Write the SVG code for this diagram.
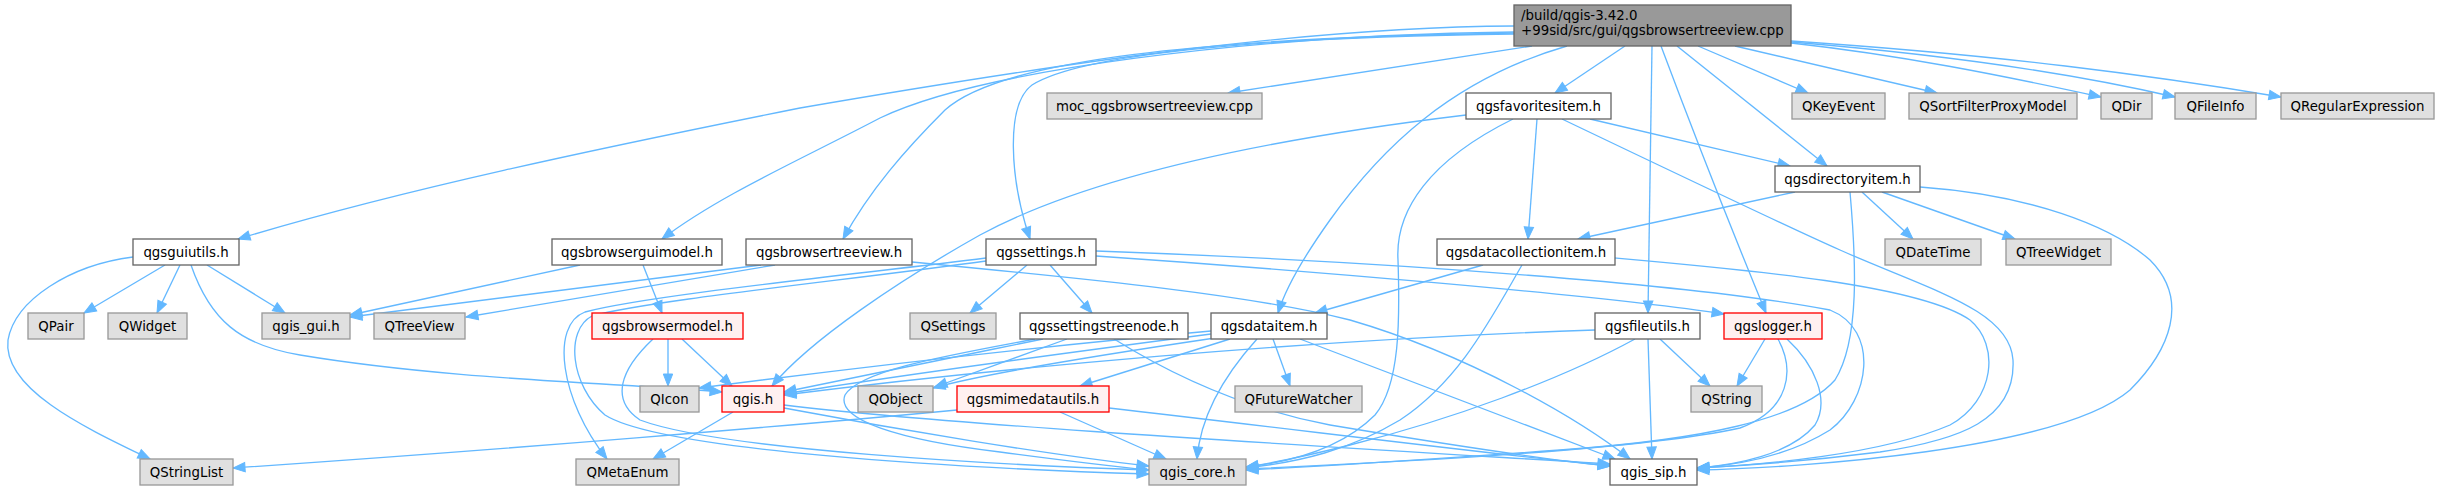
<svg xmlns="http://www.w3.org/2000/svg" width="2439" height="491" viewBox="0 0 2439 491">
<style>
.n rect{fill:#ffffff;stroke:#666666;stroke-width:1.33}
.e rect{fill:#e0e0e0;stroke:#999999;stroke-width:1.33}
.r rect{fill:#fff0f0;stroke:#ff0000;stroke-width:1.33}
.root rect{fill:#999999;stroke:#666666;stroke-width:1.33}
text{font-family:"DejaVu Sans","Liberation Sans",sans-serif;font-size:13.33px;fill:#000000;text-anchor:middle}
.root text{text-anchor:start}
#edges path{fill:none;stroke:#63b8ff;stroke-width:1.33;marker-end:url(#arr)}
</style>
<defs>
<marker id="arr" markerUnits="userSpaceOnUse" viewBox="-1 -6 14 12" markerWidth="14" markerHeight="12" refX="12" refY="0" orient="auto">
<path d="M0,-4.7 L12,0 L0,4.7 z" fill="#63b8ff" stroke="#63b8ff" stroke-width="1"/>
</marker>
</defs>
<rect width="2439" height="491" fill="#ffffff"/>
<g id="edges">
<path d="M1514,26 C1300,27 1050,65 800,108 C600,148 400,190 238,239"/>
<path d="M1514,32 C1250,35 980,70 880,118 C800,160 720,195 662,239"/>
<path d="M1514,33 C1200,38 1000,60 945,110 C905,150 870,190 843,239"/>
<path d="M1514,34 C1250,37 1080,55 1032,85 C1005,105 1010,180 1030,239"/>
<path d="M1532,46 L1228,93"/>
<path d="M1567,46 C1450,80 1380,150 1330,220 C1305,255 1285,290 1278,313"/>
<path d="M1625,46 L1555,93"/>
<path d="M1652,46 C1650,150 1649,250 1648,313"/>
<path d="M1661,46 C1700,150 1740,250 1766,313"/>
<path d="M1677,46 L1827,166"/>
<path d="M1698,46 L1808,93"/>
<path d="M1735,46 L1937,93"/>
<path d="M1791,43 C1900,55 2000,75 2101,97"/>
<path d="M1791,42 C1950,55 2080,75 2175,97"/>
<path d="M1791,41 C2000,55 2150,75 2281,97"/>
<path d="M1466,115 C1300,135 1100,170 980,235 C900,280 810,340 772,386"/>
<path d="M1513,119 C1430,160 1395,210 1398,260 C1400,320 1400,385 1375,415 C1340,450 1290,462 1246,467"/>
<path d="M1537,119 L1528,239"/>
<path d="M1562,119 C1700,185 1790,228 1840,250 C1930,290 2010,310 2013,360 C2016,420 1960,440 1880,452 C1800,462 1740,466 1697,468"/>
<path d="M1590,119 L1790,166"/>
<path d="M1795,192 L1578,239"/>
<path d="M1862,192 L1913,239"/>
<path d="M1882,192 L2015,239"/>
<path d="M1850,192 C1856,260 1860,340 1835,380 C1800,420 1700,440 1560,450 C1450,458 1330,466 1246,470"/>
<path d="M1920,187 C2030,195 2110,225 2150,260 C2190,300 2170,350 2130,390 C2060,450 1800,468 1697,470"/>
<path d="M133,257 C70,265 15,300 8,340 C2,390 90,430 150,459"/>
<path d="M165,265 L84,313"/>
<path d="M180,265 L157,313"/>
<path d="M191,265 C210,320 240,345 300,355 C450,380 620,383 722,392"/>
<path d="M207,265 L285,313"/>
<path d="M580,265 L350,315"/>
<path d="M643,265 L662,313"/>
<path d="M761,265 L350,317"/>
<path d="M775,265 L466,317"/>
<path d="M912,262 C1100,280 1250,295 1350,320 C1470,355 1580,420 1630,459"/>
<path d="M1027,265 L970,313"/>
<path d="M1050,265 L1092,313"/>
<path d="M986,258 C850,275 650,295 585,312 C550,325 560,400 607,459"/>
<path d="M986,261 C850,280 650,300 592,316 C565,330 570,385 605,415 C660,450 950,468 1149,474"/>
<path d="M1096,256 C1300,270 1600,295 1724,314"/>
<path d="M1096,251 C1400,262 1700,285 1830,310 C1880,330 1870,400 1830,430 C1790,455 1740,465 1697,468"/>
<path d="M1615,258 C1750,270 1920,285 1970,320 C2000,345 1995,400 1950,425 C1880,455 1760,465 1697,468"/>
<path d="M1067,339 L935,387"/>
<path d="M1043,339 C950,358 850,378 784,392"/>
<path d="M1035,339 C950,355 860,370 845,395 C835,420 900,440 1000,452 C1060,460 1110,466 1149,470"/>
<path d="M1114,339 C1180,380 1250,410 1330,425 C1450,445 1550,460 1610,466"/>
<path d="M1211,334 C1050,355 900,375 784,394"/>
<path d="M1211,331 C1000,350 800,375 699,388"/>
<path d="M1215,338 C1100,355 980,375 933,388"/>
<path d="M1230,339 L1080,386"/>
<path d="M1273,339 L1290,386"/>
<path d="M1257,339 C1220,380 1200,420 1197,459"/>
<path d="M1300,339 L1615,459"/>
<path d="M1483,265 L1315,313"/>
<path d="M1522,265 C1490,320 1460,380 1400,420 C1350,450 1300,462 1246,468"/>
<path d="M1595,330 C1300,340 1000,368 784,395"/>
<path d="M1660,339 L1710,386"/>
<path d="M1635,339 C1560,380 1450,420 1350,445 C1310,455 1280,462 1246,467"/>
<path d="M1648,339 L1652,459"/>
<path d="M1765,339 L1737,386"/>
<path d="M1778,339 C1795,370 1790,410 1740,428 C1640,450 1400,462 1246,469"/>
<path d="M1787,339 C1815,365 1830,400 1815,425 C1790,455 1735,465 1697,468"/>
<path d="M668,339 L668,386"/>
<path d="M682,339 L732,386"/>
<path d="M653,339 C620,370 610,400 640,420 C720,450 1000,465 1149,470"/>
<path d="M733,412 L653,459"/>
<path d="M784,408 C900,430 1050,455 1149,466"/>
<path d="M784,405 C950,425 1300,445 1610,464"/>
<path d="M957,410 C800,425 500,450 233,468"/>
<path d="M1060,412 L1166,459"/>
<path d="M1109,408 C1300,430 1500,455 1610,466"/>
</g>
<g id="node-root" class="root"><rect x="1514" y="5" width="277" height="41"/><text x="1521" y="20">/build/qgis-3.42.0</text><text x="1521" y="35">+99sid/src/gui/qgsbrowsertreeview.cpp</text></g>
<g id="node-moc" class="e"><rect x="1047" y="93" width="215" height="26"/><text x="1154.5" y="110.5">moc_qgsbrowsertreeview.cpp</text></g>
<g id="node-qgsfavoritesitem" class="n"><rect x="1466" y="93" width="145" height="26"/><text x="1538.5" y="110.5">qgsfavoritesitem.h</text></g>
<g id="node-QKeyEvent" class="e"><rect x="1792" y="93" width="93" height="26"/><text x="1838.5" y="110.5">QKeyEvent</text></g>
<g id="node-QSortFilterProxyModel" class="e"><rect x="1909" y="93" width="168" height="26"/><text x="1993" y="110.5">QSortFilterProxyModel</text></g>
<g id="node-QDir" class="e"><rect x="2101" y="93" width="51" height="26"/><text x="2126.5" y="110.5">QDir</text></g>
<g id="node-QFileInfo" class="e"><rect x="2175" y="93" width="81" height="26"/><text x="2215.5" y="110.5">QFileInfo</text></g>
<g id="node-QRegularExpression" class="e"><rect x="2281" y="93" width="153" height="26"/><text x="2357.5" y="110.5">QRegularExpression</text></g>
<g id="node-qgsdirectoryitem" class="n"><rect x="1775" y="166" width="145" height="26"/><text x="1847.5" y="183.5">qgsdirectoryitem.h</text></g>
<g id="node-qgsguiutils" class="n"><rect x="133" y="239" width="106" height="26"/><text x="186" y="256.5">qgsguiutils.h</text></g>
<g id="node-qgsbrowserguimodel" class="n"><rect x="552" y="239" width="170" height="26"/><text x="637" y="256.5">qgsbrowserguimodel.h</text></g>
<g id="node-qgsbrowsertreeview" class="n"><rect x="746" y="239" width="166" height="26"/><text x="829" y="256.5">qgsbrowsertreeview.h</text></g>
<g id="node-qgssettings" class="n"><rect x="986" y="239" width="110" height="26"/><text x="1041" y="256.5">qgssettings.h</text></g>
<g id="node-qgsdatacollectionitem" class="n"><rect x="1437" y="239" width="178" height="26"/><text x="1526" y="256.5">qgsdatacollectionitem.h</text></g>
<g id="node-QDateTime" class="e"><rect x="1885" y="239" width="96" height="26"/><text x="1933" y="256.5">QDateTime</text></g>
<g id="node-QTreeWidget" class="e"><rect x="2006" y="239" width="105" height="26"/><text x="2058.5" y="256.5">QTreeWidget</text></g>
<g id="node-QPair" class="e"><rect x="28" y="313" width="56" height="26"/><text x="56" y="330.5">QPair</text></g>
<g id="node-QWidget" class="e"><rect x="108" y="313" width="79" height="26"/><text x="147.5" y="330.5">QWidget</text></g>
<g id="node-qgis_gui" class="e"><rect x="262" y="313" width="88" height="26"/><text x="306" y="330.5">qgis_gui.h</text></g>
<g id="node-QTreeView" class="e"><rect x="374" y="313" width="91" height="26"/><text x="419.5" y="330.5">QTreeView</text></g>
<g id="node-qgsbrowsermodel" class="r"><rect x="592" y="313" width="151" height="26"/><text x="667.5" y="330.5">qgsbrowsermodel.h</text></g>
<g id="node-QSettings" class="e"><rect x="910" y="313" width="86" height="26"/><text x="953" y="330.5">QSettings</text></g>
<g id="node-qgssettingstreenode" class="n"><rect x="1020" y="313" width="168" height="26"/><text x="1104" y="330.5">qgssettingstreenode.h</text></g>
<g id="node-qgsdataitem" class="n"><rect x="1211" y="313" width="116" height="26"/><text x="1269" y="330.5">qgsdataitem.h</text></g>
<g id="node-qgsfileutils" class="n"><rect x="1595" y="313" width="105" height="26"/><text x="1647.5" y="330.5">qgsfileutils.h</text></g>
<g id="node-qgslogger" class="r"><rect x="1724" y="313" width="98" height="26"/><text x="1773" y="330.5">qgslogger.h</text></g>
<g id="node-QIcon" class="e"><rect x="640" y="386" width="59" height="26"/><text x="669.5" y="403.5">QIcon</text></g>
<g id="node-qgis" class="r"><rect x="722" y="386" width="62" height="26"/><text x="753" y="403.5">qgis.h</text></g>
<g id="node-QObject" class="e"><rect x="858" y="386" width="75" height="26"/><text x="895.5" y="403.5">QObject</text></g>
<g id="node-qgsmimedatautils" class="r"><rect x="957" y="386" width="152" height="26"/><text x="1033" y="403.5">qgsmimedatautils.h</text></g>
<g id="node-QFutureWatcher" class="e"><rect x="1235" y="386" width="127" height="26"/><text x="1298.5" y="403.5">QFutureWatcher</text></g>
<g id="node-QString" class="e"><rect x="1691" y="386" width="71" height="26"/><text x="1726.5" y="403.5">QString</text></g>
<g id="node-QStringList" class="e"><rect x="140" y="459" width="93" height="26"/><text x="186.5" y="476.5">QStringList</text></g>
<g id="node-QMetaEnum" class="e"><rect x="576" y="459" width="103" height="26"/><text x="627.5" y="476.5">QMetaEnum</text></g>
<g id="node-qgis_core" class="e"><rect x="1149" y="459" width="97" height="26"/><text x="1197.5" y="476.5">qgis_core.h</text></g>
<g id="node-qgis_sip" class="n"><rect x="1610" y="459" width="87" height="26"/><text x="1653.5" y="476.5">qgis_sip.h</text></g>
</svg>
